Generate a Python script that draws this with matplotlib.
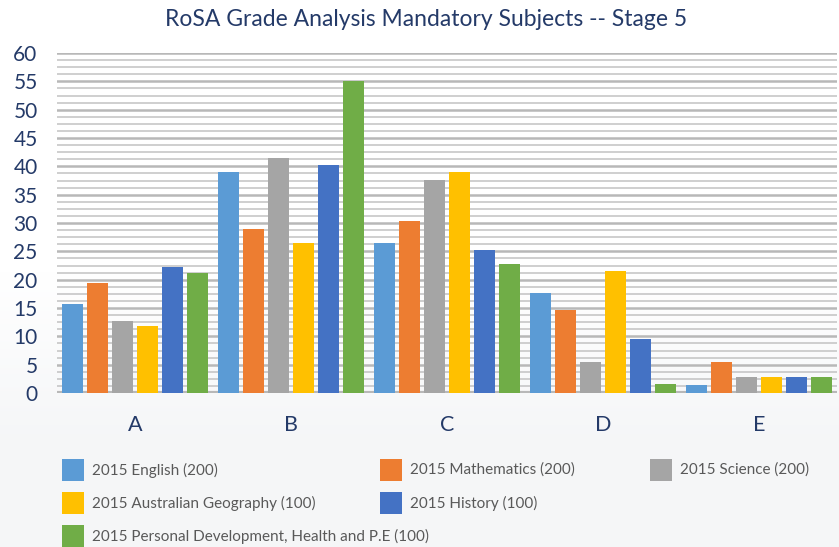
import numpy as np
import matplotlib
matplotlib.use("Agg")
import matplotlib.pyplot as plt
from matplotlib.patches import Rectangle

grades = ["A", "B", "C", "D", "E"]
subjects = [
    "2015 English (200)",
    "2015 Mathematics (200)",
    "2015 Science (200)",
    "2015 Australian Geography (100)",
    "2015 History (100)",
    "2015 Personal Development, Health and P.E (100)",
]
colors = ["#5b9bd5", "#ed7d31", "#a5a5a5", "#ffc000", "#4472c4", "#70ad47"]

english = [15.7, 39.0, 26.5, 17.6, 1.4]
mathematics = [19.4, 28.9, 30.4, 14.6, 5.5]
science = [12.7, 41.4, 37.6, 5.5, 2.8]
geography = [11.8, 26.5, 39.0, 21.5, 2.8]
history = [22.2, 40.2, 25.2, 9.5, 2.8]
pdhpe = [21.2, 55.1, 22.8, 1.6, 2.8]
series = [english, mathematics, science, geography, history, pdhpe]

navy = "#243a68"
W, H = 839, 547

fig = plt.figure(figsize=(W / 100, H / 100), dpi=100)
fig.patch.set_facecolor("white")

# soft background gradient, white at top to light grey at bottom
bg = fig.add_axes([0, 0, 1, 1], zorder=-10)
grad = np.linspace(0, 1, 256).reshape(-1, 1)
top = np.array([1.0, 1.0, 1.0])
bot = np.array([0.962, 0.966, 0.972])
img = top + (bot - top) * np.clip((grad - 0.5) / 0.3, 0, 1)[..., None] * np.ones(3)
bg.imshow(img, aspect="auto", extent=[0, 1, 0, 1], origin="upper")
bg.axis("off")

ax = fig.add_axes([57 / W, 1 - 393 / H, 780 / W, 340 / H])
ax.set_facecolor("none")

x = np.arange(len(grades))
step = 0.16
bw = 0.135
for i, (vals, c) in enumerate(zip(series, colors)):
    ax.bar(x + (i - 2.5) * step, vals, width=bw, color=c, zorder=3)

ax.set_xlim(-0.5, len(grades) - 0.5)
ax.set_ylim(0, 60)
ax.set_yticks(np.arange(0, 61, 5))
ax.set_yticks(np.arange(0, 60, 1.25), minor=True)
ax.grid(axis="y", which="major", color="#b8b8b8", linewidth=1.8, zorder=0)
ax.grid(axis="y", which="minor", color="#c2c2c2", linewidth=1.1, zorder=0)
ax.axhline(0, color="#b8b8b8", linewidth=3, zorder=2)
for s in ax.spines.values():
    s.set_visible(False)

ax.set_xticks(x)
ax.set_xticklabels(grades)
ax.tick_params(axis="both", which="both", length=0)
ax.tick_params(axis="y", pad=14, labelsize=15, labelcolor=navy)
ax.tick_params(axis="x", pad=16, labelsize=15.5, labelcolor=navy)
for lab in ax.get_xticklabels() + ax.get_yticklabels():
    lab.set_family("Lato")

fig.text(426 / W, 1 - 20 / H, "RoSA Grade Analysis Mandatory Subjects -- Stage 5",
         ha="center", va="center", fontsize=16.5, color=navy, family="Lato")

# legend laid out like the original (three columns, wrapping)
leg_pos = [(62, 470), (380, 470), (650, 470), (62, 503), (380, 503), (62, 536)]
for (lx, ly), lab, c in zip(leg_pos, subjects, colors):
    fig.patches.append(Rectangle((lx / W, 1 - (ly + 11) / H), 22 / W, 22 / H,
                                 transform=fig.transFigure, facecolor=c,
                                 edgecolor="none"))
    fig.text((lx + 30) / W, 1 - ly / H, lab, ha="left", va="center",
             fontsize=11, color="#595959", family="Lato")

fig.savefig("out.png", dpi=100)
